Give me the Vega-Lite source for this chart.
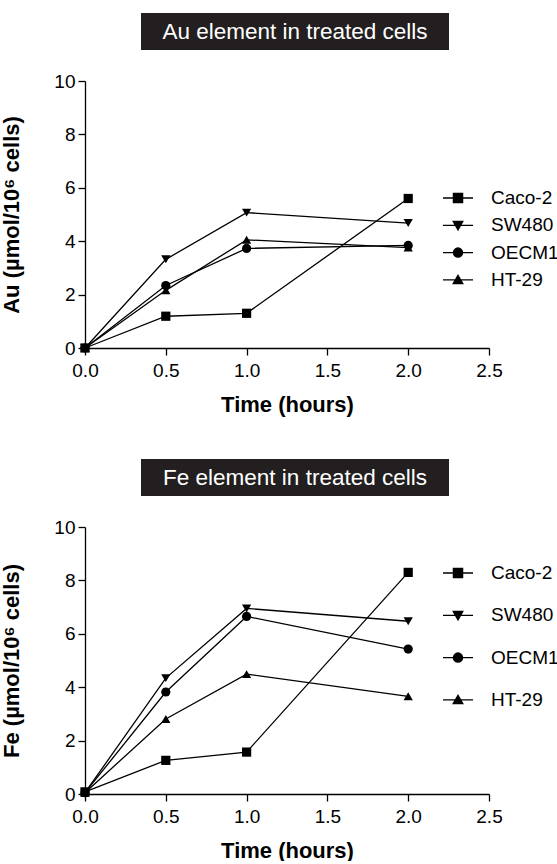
{
  "$schema": "https://vega.github.io/schema/vega-lite/v6.json",
  "background": "white",
  "padding": {"left": 0, "top": 13, "right": 0, "bottom": 0},
  "datasets": {
    "au": [
      {"t": 0, "v": 0.0, "line": "Caco-2"},
      {"t": 0.5, "v": 1.19, "line": "Caco-2"},
      {"t": 1, "v": 1.3, "line": "Caco-2"},
      {"t": 2, "v": 5.6, "line": "Caco-2"},
      {"t": 0, "v": 0.0, "line": "SW480"},
      {"t": 0.5, "v": 3.32, "line": "SW480"},
      {"t": 1, "v": 5.07, "line": "SW480"},
      {"t": 2, "v": 4.68, "line": "SW480"},
      {"t": 0, "v": 0.0, "line": "OECM1"},
      {"t": 0.5, "v": 2.34, "line": "OECM1"},
      {"t": 1, "v": 3.73, "line": "OECM1"},
      {"t": 2, "v": 3.84, "line": "OECM1"},
      {"t": 0, "v": 0.0, "line": "HT-29"},
      {"t": 0.5, "v": 2.16, "line": "HT-29"},
      {"t": 1, "v": 4.05, "line": "HT-29"},
      {"t": 2, "v": 3.76, "line": "HT-29"}
    ],
    "fe": [
      {"t": 0, "v": 0.08, "line": "Caco-2"},
      {"t": 0.5, "v": 1.26, "line": "Caco-2"},
      {"t": 1, "v": 1.57, "line": "Caco-2"},
      {"t": 2, "v": 8.3, "line": "Caco-2"},
      {"t": 0, "v": 0.05, "line": "SW480"},
      {"t": 0.5, "v": 4.34, "line": "SW480"},
      {"t": 1, "v": 6.95, "line": "SW480"},
      {"t": 2, "v": 6.47, "line": "SW480"},
      {"t": 0, "v": 0.05, "line": "OECM1"},
      {"t": 0.5, "v": 3.82, "line": "OECM1"},
      {"t": 1, "v": 6.65, "line": "OECM1"},
      {"t": 2, "v": 5.43, "line": "OECM1"},
      {"t": 0, "v": 0.05, "line": "HT-29"},
      {"t": 0.5, "v": 2.81, "line": "HT-29"},
      {"t": 1, "v": 4.49, "line": "HT-29"},
      {"t": 2, "v": 3.66, "line": "HT-29"}
    ],
    "titles": [
      {"panel": "au", "label": "Au element in treated cells"},
      {"panel": "fe", "label": "Fe element in treated cells"}
    ]
  },
  "spacing": 44,
  "vconcat": [
    {
      "spacing": 22,
      "vconcat": [
        {
          "spacing": 0,
          "hconcat": [
            {"width": 56, "height": 37, "data": {"values": []}, "mark": "point"},
            {
              "width": 308, "height": 37,
              "view": {"fill": "#231f20", "stroke": null},
              "data": {"name": "titles"},
              "transform": [{"filter": "datum.panel === 'au'"}],
              "mark": {"type": "text", "color": "white", "fontSize": 22.5, "font": "Liberation Sans", "align": "center", "baseline": "middle"},
              "encoding": {"text": {"field": "label", "type": "nominal"}}
            }
          ]
        },
        {
          "width": 404, "height": 267,
          "data": {"name": "au"},
          "encoding": {
            "x": {"field": "t", "type": "quantitative", "scale": {"domain": [0, 2.5], "nice": false}, "axis": {"values": [0, 0.5, 1, 1.5, 2, 2.5], "format": ".1f", "title": "Time (hours)"}},
            "y": {"field": "v", "type": "quantitative", "scale": {"domain": [0, 10], "nice": false}, "axis": {"values": [0, 2, 4, 6, 8, 10], "format": "d", "title": "Au (µmol/10⁶ cells)"}}
          },
          "layer": [
            {"mark": {"type": "line", "color": "black", "strokeWidth": 1.3}, "encoding": {"detail": {"field": "line", "type": "nominal"}}},
            {
              "mark": {"type": "point", "filled": true, "color": "black", "size": 85, "opacity": 1},
              "encoding": {"shape": {"field": "line", "type": "nominal", "scale": {"domain": ["Caco-2", "SW480", "OECM1", "HT-29"], "range": ["square", "triangle-down", "circle", "triangle-up"]}, "legend": null}}
            },
            {
              "mark": {"type": "point", "filled": false, "color": "black", "size": 400, "opacity": 0},
              "encoding": {"shape": {"field": "line", "type": "nominal",
                "scale": {"domain": ["Caco-2", "SW480", "OECM1", "HT-29"], "range": [
                  "M-1.5,0H1.5M-0.46,-0.46H0.46V0.46H-0.46ZM-0.36,-0.36H0.36V0.36H-0.36ZM-0.26,-0.26H0.26V0.26H-0.26ZM-0.16,-0.16H0.16V0.16H-0.16ZM-0.06,-0.06H0.06V0.06H-0.06Z",
                  "M-1.5,0H1.5M-0.48,-0.38H0.48L0,0.46ZM-0.307,-0.279H0.307L0,0.258ZM-0.134,-0.178H0.134L0,0.057Z",
                  "M-1.5,0H1.5M0.46,0A0.46,0.46 0 1,1 -0.46,0A0.46,0.46 0 1,1 0.46,0ZM0.36,0A0.36,0.36 0 1,1 -0.36,0A0.36,0.36 0 1,1 0.36,0ZM0.26,0A0.26,0.26 0 1,1 -0.26,0A0.26,0.26 0 1,1 0.26,0ZM0.16,0A0.16,0.16 0 1,1 -0.16,0A0.16,0.16 0 1,1 0.16,0ZM0.06,0A0.06,0.06 0 1,1 -0.06,0A0.06,0.06 0 1,1 0.06,0Z",
                  "M-1.5,0H1.5M-0.48,0.38H0.48L0,-0.46ZM-0.307,0.279H0.307L0,-0.258ZM-0.134,0.178H0.134L0,-0.057Z"
                ]},
                "legend": {"orient": "none", "legendX": 362, "legendY": 106, "title": null, "padding": 0, "rowPadding": 6.3, "labelOffset": 22, "labelFont": "Liberation Sans", "labelFontSize": 19, "labelColor": "black", "symbolSize": 400, "symbolOpacity": 1, "symbolStrokeWidth": 1.3,
                  "encode": {"symbols": {"opacity": {"value": 1}, "strokeWidth": {"value": 1.3}}}}
              }}
            }
          ],
          "resolve": {"scale": {"shape": "independent"}, "legend": {"shape": "independent"}}
        }
      ]
    },
    {
      "spacing": 22,
      "vconcat": [
        {
          "spacing": 0,
          "hconcat": [
            {"width": 56, "height": 37, "data": {"values": []}, "mark": "point"},
            {
              "width": 308, "height": 37,
              "view": {"fill": "#231f20", "stroke": null},
              "data": {"name": "titles"},
              "transform": [{"filter": "datum.panel === 'fe'"}],
              "mark": {"type": "text", "color": "white", "fontSize": 22.5, "font": "Liberation Sans", "align": "center", "baseline": "middle"},
              "encoding": {"text": {"field": "label", "type": "nominal"}}
            }
          ]
        },
        {
          "width": 404, "height": 267,
          "data": {"name": "fe"},
          "encoding": {
            "x": {"field": "t", "type": "quantitative", "scale": {"domain": [0, 2.5], "nice": false}, "axis": {"values": [0, 0.5, 1, 1.5, 2, 2.5], "format": ".1f", "title": "Time (hours)"}},
            "y": {"field": "v", "type": "quantitative", "scale": {"domain": [0, 10], "nice": false}, "axis": {"values": [0, 2, 4, 6, 8, 10], "format": "d", "title": "Fe (µmol/10⁶ cells)"}}
          },
          "layer": [
            {"mark": {"type": "line", "color": "black", "strokeWidth": 1.3}, "encoding": {"detail": {"field": "line", "type": "nominal"}}},
            {
              "mark": {"type": "point", "filled": true, "color": "black", "size": 85, "opacity": 1},
              "encoding": {"shape": {"field": "line", "type": "nominal", "scale": {"domain": ["Caco-2", "SW480", "OECM1", "HT-29"], "range": ["square", "triangle-down", "circle", "triangle-up"]}, "legend": null}}
            },
            {
              "mark": {"type": "point", "filled": false, "color": "black", "size": 400, "opacity": 0},
              "encoding": {"shape": {"field": "line", "type": "nominal",
                "scale": {"domain": ["Caco-2", "SW480", "OECM1", "HT-29"], "range": [
                  "M-1.5,0H1.5M-0.46,-0.46H0.46V0.46H-0.46ZM-0.36,-0.36H0.36V0.36H-0.36ZM-0.26,-0.26H0.26V0.26H-0.26ZM-0.16,-0.16H0.16V0.16H-0.16ZM-0.06,-0.06H0.06V0.06H-0.06Z",
                  "M-1.5,0H1.5M-0.48,-0.38H0.48L0,0.46ZM-0.307,-0.279H0.307L0,0.258ZM-0.134,-0.178H0.134L0,0.057Z",
                  "M-1.5,0H1.5M0.46,0A0.46,0.46 0 1,1 -0.46,0A0.46,0.46 0 1,1 0.46,0ZM0.36,0A0.36,0.36 0 1,1 -0.36,0A0.36,0.36 0 1,1 0.36,0ZM0.26,0A0.26,0.26 0 1,1 -0.26,0A0.26,0.26 0 1,1 0.26,0ZM0.16,0A0.16,0.16 0 1,1 -0.16,0A0.16,0.16 0 1,1 0.16,0ZM0.06,0A0.06,0.06 0 1,1 -0.06,0A0.06,0.06 0 1,1 0.06,0Z",
                  "M-1.5,0H1.5M-0.48,0.38H0.48L0,-0.46ZM-0.307,0.279H0.307L0,-0.258ZM-0.134,0.178H0.134L0,-0.057Z"
                ]},
                "legend": {"orient": "none", "legendX": 362, "legendY": 35, "title": null, "padding": 0, "rowPadding": 21.3, "labelOffset": 22, "labelFont": "Liberation Sans", "labelFontSize": 19, "labelColor": "black", "symbolSize": 400, "symbolOpacity": 1, "symbolStrokeWidth": 1.3,
                  "encode": {"symbols": {"opacity": {"value": 1}, "strokeWidth": {"value": 1.3}}}}
              }}
            }
          ],
          "resolve": {"scale": {"shape": "independent"}, "legend": {"shape": "independent"}}
        }
      ]
    }
  ],
  "config": {
    "font": "Liberation Sans",
    "view": {"stroke": null},
    "axis": {"grid": false, "domainColor": "black", "tickColor": "black", "domainWidth": 1.3, "tickWidth": 1.3, "tickSize": 7, "labelFont": "Liberation Sans", "labelFontSize": 19, "labelColor": "black", "labelPadding": 3, "labelFlush": false, "labelOverlap": false, "titleFont": "Liberation Sans", "titleFontSize": 22, "titleFontWeight": "bold", "titleColor": "black"},
    "axisX": {"titlePadding": 14, "labelPadding": 6},
    "axisY": {"titlePadding": 30}
  }
}
